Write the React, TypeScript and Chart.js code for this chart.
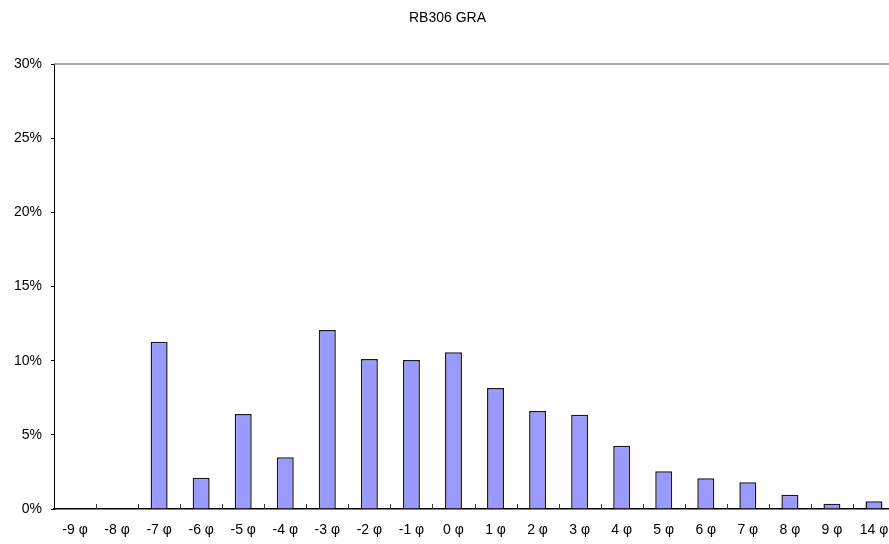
import React, { useEffect, useRef } from "react";
import { Chart, registerables } from "chart.js";

Chart.register(...registerables);

const TITLE = "RB306 GRA";
const categories = [
  "-9 φ", "-8 φ", "-7 φ", "-6 φ", "-5 φ", "-4 φ", "-3 φ", "-2 φ", "-1 φ", "0 φ",
  "1 φ", "2 φ", "3 φ", "4 φ", "5 φ", "6 φ", "7 φ", "8 φ", "9 φ", "14 φ",
];
const percentValues = [
  0, 0, 11.28, 2.11, 6.4, 3.49, 12.07, 10.11, 10.05, 10.56,
  8.16, 6.61, 6.36, 4.27, 2.54, 2.07, 1.8, 0.96, 0.36, 0.52,
];
const yMin = 0;
const yMax = 30;
const yStep = 5;

const FONT = "'Liberation Sans', Arial, sans-serif";

const framePlugin = {
  id: "frame",
  afterDraw(chart: any) {
    const { ctx, chartArea } = chart;
    const xs = chart.scales.x;
    ctx.save();
    ctx.strokeStyle = "#8c8c8c";
    ctx.lineWidth = 1.5;
    ctx.beginPath();
    ctx.moveTo(chartArea.left, chartArea.top);
    ctx.lineTo(chartArea.right, chartArea.top);
    ctx.stroke();
    ctx.strokeStyle = "#333";
    ctx.lineWidth = 1;
    const n = chart.data.labels.length;
    for (let i = 1; i < n; i++) {
      const x = Math.round((xs.getPixelForTick(i - 1) + xs.getPixelForTick(i)) / 2) + 0.5;
      ctx.beginPath();
      ctx.moveTo(x, chartArea.bottom - 5);
      ctx.lineTo(x, chartArea.bottom);
      ctx.stroke();
    }
    ctx.restore();
  },
};

export default function App() {
  const ref = useRef<HTMLCanvasElement | null>(null);

  useEffect(() => {
    document.body.style.margin = "0";
    const chart = new Chart(ref.current as HTMLCanvasElement, {
      type: "bar",
      data: {
        labels: categories,
        datasets: [
          {
            data: percentValues,
            backgroundColor: "#9999FF",
            borderColor: "#1a1a1a",
            borderWidth: 1.5,
            barPercentage: 0.404,
            categoryPercentage: 1,
          },
        ],
      },
      options: {
        animation: false,
        responsive: false,
        devicePixelRatio: 1,
        layout: { padding: { left: 0, right: 11, top: 0, bottom: 0 } },
        plugins: {
          legend: { display: false },
          tooltip: { enabled: false },
          title: {
            display: true,
            text: TITLE,
            color: "#000",
            font: { family: FONT, size: 14, weight: "normal" },
            padding: { top: 9.6, bottom: 37.6 },
          },
        },
        scales: {
          x: {
            grid: { display: false, drawTicks: false, offset: true },
            border: { display: true, color: "#000", width: 1.5 },
            ticks: {
              color: "#000",
              font: { family: FONT, size: 14 },
              padding: 12.5,
              maxRotation: 0,
              autoSkip: false,
            },
            afterFit(scale: any) {
              scale.height = 35;
              scale.paddingLeft = 0;
              scale.paddingRight = 0;
            },
          },
          y: {
            min: yMin,
            max: yMax,
            grid: { drawOnChartArea: false, drawTicks: true, tickLength: 3, color: "#000" },
            border: { display: true, color: "#000", width: 1 },
            ticks: {
              stepSize: yStep,
              color: "#000",
              font: { family: FONT, size: 14 },
              padding: 9,
              callback: (v: any) => `${v}%`,
            },
            afterFit(scale: any) {
              scale.width = 54;
              scale.paddingTop = 0;
              scale.paddingBottom = 0;
            },
          },
        },
      },
      plugins: [framePlugin],
    });
    return () => chart.destroy();
  }, []);

  return (
    <div
      style={{
        position: "fixed",
        left: 0,
        top: 0,
        width: 889,
        height: 544,
        overflow: "hidden",
        background: "#fff",
      }}
    >
      <canvas ref={ref} width={906} height={544} style={{ display: "block", width: 906, height: 544 }} />
    </div>
  );
}
